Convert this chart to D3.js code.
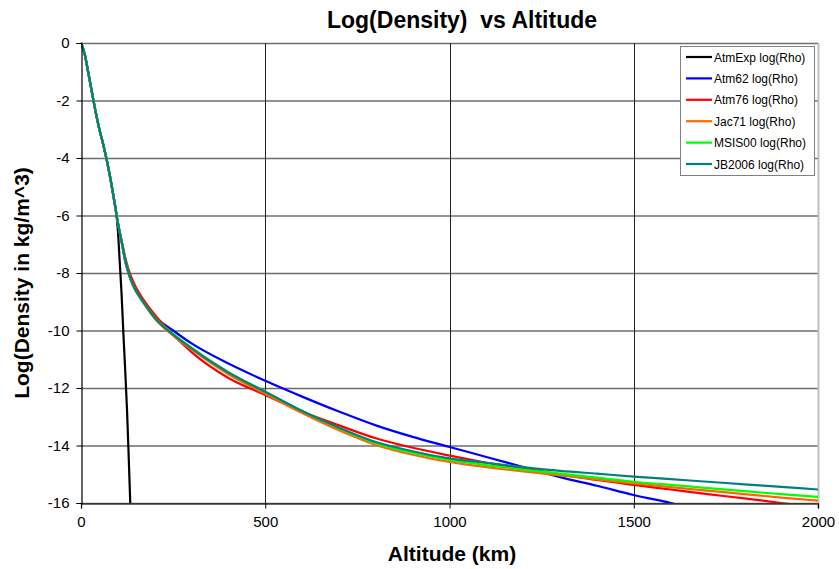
<!DOCTYPE html>
<html lang="en">
<head>
<meta charset="utf-8">
<title>Log(Density) vs Altitude</title>
<script src="https://d3js.org/d3.v7.min.js"></script>
<style>
  body { margin: 0; background: #fff; }
  text { font-family: "Liberation Sans", Arial, sans-serif; }
</style>
</head>
<body>
<svg width="839" height="569"></svg>
<script>
// altitude (km) shared by all models below 100 km
const altLow = [0, 10, 20, 30, 40, 50, 60, 70, 80, 90, 100];
const rhoLow = [0, -0.38, -1.05, -1.74, -2.41, -3.01, -3.51, -4.08, -4.73, -5.47, -6.25];

// exponential model above 90 km
const altExp = [90, 95, 100, 105, 110, 115, 120, 125, 130, 135];
const atmExp = [-5.47, -5.85, -6.5, -7.6, -8.7, -10.1, -11.4, -12.8, -14.6, -16.5];

// other models above 100 km
const altHigh = [110, 120, 130, 140, 150, 160, 175, 200, 250, 300, 400, 500, 600, 700, 800, 900,
                 1000, 1100, 1200, 1300, 1400, 1500, 1600, 1700, 1800, 1900, 2000];
const atm62  = [-6.9, -7.6, -8.05, -8.38, -8.62, -8.83, -9.1, -9.5, -10.0, -10.45, -11.15, -11.75, -12.3, -12.82, -13.3, -13.7,
                -14.05, -14.4, -14.75, -15.1, -15.4, -15.72, -16.0, -16.3, null, null, null];
const atm76  = [-6.85, -7.45, -7.92, -8.25, -8.52, -8.74, -9.03, -9.45, -10.15, -10.75, -11.65, -12.24, -12.82, -13.3, -13.75, -14.08,
                -14.35, -14.6, -14.8, -15.0, -15.2, -15.37, -15.53, -15.69, -15.84, -16.0, -16.15];
const jac71  = [-6.9, -7.55, -8.05, -8.4, -8.66, -8.87, -9.15, -9.58, -10.18, -10.66, -11.52, -12.2, -12.87, -13.47, -13.98, -14.32,
                -14.57, -14.75, -14.9, -15.04, -15.18, -15.32, -15.45, -15.57, -15.69, -15.81, -15.92];
const msis00 = [-6.9, -7.55, -8.05, -8.4, -8.65, -8.85, -9.12, -9.55, -10.12, -10.6, -11.45, -12.13, -12.8, -13.4, -13.92, -14.26,
                -14.5, -14.68, -14.84, -14.98, -15.12, -15.26, -15.37, -15.48, -15.59, -15.69, -15.79];
const jb2006 = [-6.9, -7.55, -8.03, -8.38, -8.64, -8.84, -9.12, -9.56, -10.14, -10.62, -11.46, -12.13, -12.8, -13.38, -13.88, -14.2,
                -14.45, -14.6, -14.75, -14.88, -14.98, -15.08, -15.17, -15.26, -15.35, -15.44, -15.53];

const seriesNames = ["AtmExp log(Rho)", "Atm62 log(Rho)", "Atm76 log(Rho)", "Jac71 log(Rho)", "MSIS00 log(Rho)", "JB2006 log(Rho)"];
const seriesColors = ["#000000", "#0000ff", "#ff0000", "#ff6600", "#00ff00", "#008080"];
const xTicks = [0, 500, 1000, 1500, 2000];
const yTicks = [0, -2, -4, -6, -8, -10, -12, -14, -16];

function build(alts, vals) {
  return alts.map((a, i) => ({ alt: a, rho: vals[i] }));
}
const low = build(altLow, rhoLow);
const series = [
  low.slice(0, 10).concat(build(altExp, atmExp).slice(1)),
  low.concat(build(altHigh, atm62)),
  low.concat(build(altHigh, atm76)),
  low.concat(build(altHigh, jac71)),
  low.concat(build(altHigh, msis00)),
  low.concat(build(altHigh, jb2006))
];

const svg = d3.select("svg");
const pL = 81, pR = 818, pT = 43, pB = 503;
const x = d3.scaleLinear().domain([0, 2000]).range([pL, pR]);
const y = d3.scaleLinear().domain([-16, 0]).range([pB, pT]);

// horizontal grid
svg.append("g").selectAll("line").data(yTicks).enter().append("line")
  .attr("x1", pL).attr("x2", pR)
  .attr("y1", d => y(d) + 0.5).attr("y2", d => y(d) + 0.5)
  .attr("stroke", "#6e6e6e").attr("stroke-width", 1.3);

// vertical grid
svg.append("g").selectAll("line").data(xTicks.slice(1, 4)).enter().append("line")
  .attr("x1", d => Math.round(x(d)) + 0.5).attr("x2", d => Math.round(x(d)) + 0.5)
  .attr("y1", pT).attr("y2", pB)
  .attr("stroke", "#222").attr("stroke-width", 1);

// right border of plot area
svg.append("line").attr("x1", pR + 0.5).attr("x2", pR + 0.5).attr("y1", pT).attr("y2", pB + 5)
  .attr("stroke", "#c0c0c0").attr("stroke-width", 2);

svg.append("clipPath").attr("id", "clip").append("rect")
  .attr("x", pL).attr("y", pT - 1).attr("width", pR - pL).attr("height", pB - pT + 1);

const line = d3.line()
  .defined(d => d.rho !== null)
  .x(d => x(d.alt)).y(d => y(d.rho))
  .curve(d3.curveMonotoneX);

svg.append("g").attr("clip-path", "url(#clip)")
  .selectAll("path").data(series).enter().append("path")
  .attr("d", line)
  .attr("fill", "none")
  .attr("stroke", (d, i) => seriesColors[i])
  .attr("stroke-width", 2.2)
  .attr("stroke-linejoin", "round");

// axes (plain hyphen for negatives, like the original)
const yAxis = svg.append("g").attr("transform", "translate(" + (pL + 0.5) + ",0)")
  .call(d3.axisLeft(y).tickValues(yTicks).tickSize(5).tickPadding(7).tickFormat(d => String(d)));
const xAxis = svg.append("g").attr("transform", "translate(0," + (pB + 0.5) + ")")
  .call(d3.axisBottom(x).tickValues(xTicks).tickSize(5).tickPadding(8).tickFormat(d => String(d)));
[yAxis, xAxis].forEach(a => {
  a.select(".domain").attr("stroke", "#000").attr("stroke-width", 1.2);
  a.selectAll(".tick line").attr("stroke", "#000");
  a.selectAll(".tick text").attr("fill", "#000")
    .style("font-size", "15px").style("font-family", "Liberation Sans, Arial, sans-serif");
});

// titles
svg.append("text").attr("x", 462).attr("y", 28).attr("text-anchor", "middle")
  .attr("xml:space", "preserve")
  .style("font-size", "23px").style("font-weight", "bold").style("white-space", "pre")
  .text("Log(Density)  vs Altitude");
svg.append("text").attr("x", 452).attr("y", 561).attr("text-anchor", "middle")
  .style("font-size", "21px").style("font-weight", "bold").text("Altitude (km)");
svg.append("text").attr("transform", "translate(29,283) rotate(-90)").attr("text-anchor", "middle")
  .style("font-size", "21px").style("font-weight", "bold").text("Log(Density in kg/m^3)");

// legend
const legend = svg.append("g").attr("transform", "translate(680,46)");
legend.append("rect").attr("x", 0.5).attr("y", 0.5).attr("width", 134).attr("height", 129)
  .attr("fill", "#fff").attr("stroke", "#808080").attr("stroke-width", 1);
const item = legend.selectAll("g.item").data(seriesNames).enter().append("g")
  .attr("class", "item")
  .attr("transform", (d, i) => "translate(0," + (11 + i * 21.4) + ")");
item.append("line").attr("x1", 6).attr("x2", 32).attr("y1", 0).attr("y2", 0)
  .attr("stroke", (d, i) => seriesColors[i]).attr("stroke-width", 2.2);
item.append("text").attr("x", 34).attr("y", 4.5)
  .style("font-size", "12px").text(d => d);
</script>
</body>
</html>
